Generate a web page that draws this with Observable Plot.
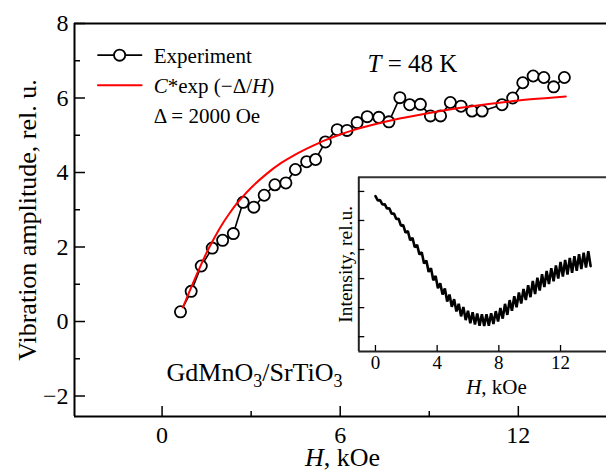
<!DOCTYPE html>
<html><head><meta charset="utf-8">
<script src="https://cdn.jsdelivr.net/npm/d3@7"></script>
<script src="https://cdn.jsdelivr.net/npm/@observablehq/plot@0.6"></script>
<style>
body{margin:0;background:#fff;}
#wrap{position:relative;width:606px;height:470px;overflow:hidden;background:#fff;}
#main{position:absolute;left:0;top:0;}
#inset{position:absolute;left:330px;top:170px;}
svg, svg text{font-family:"Liberation Serif","Times New Roman",Times,serif !important;}
</style></head><body>
<div id="wrap"><div id="main"></div><div id="inset"></div></div>
<script>
// Experiment (H in kOe, vibration amplitude rel. u.)
const expH = [0.62,0.98,1.32,1.69,2.04,2.40,2.73,3.09,3.44,3.80,4.17,4.49,4.87,5.17,5.50,5.90,6.23,6.57,6.91,7.30,7.64,8.01,8.34,8.70,9.04,9.38,9.71,10.07,10.44,10.78,11.45,11.81,12.15,12.50,12.86,13.19,13.55];
const expA = [0.26,0.81,1.49,1.97,2.18,2.36,3.20,3.07,3.39,3.67,3.72,4.08,4.29,4.35,4.82,5.15,5.13,5.34,5.50,5.48,5.36,6.01,5.82,5.83,5.52,5.52,5.88,5.78,5.65,5.65,5.82,6.00,6.41,6.59,6.55,6.30,6.55];
// Fit curve C*exp(-Δ/H)
const fitH = [0.70,0.80,0.90,1.00,1.10,1.25,1.50,1.75,2.00,2.25,2.50,2.75,3.00,3.50,4.00,4.50,5.00,5.50,6.00,6.50,7.00,8.00,9.00,10.00,11.00,12.00,13.00,13.60];
const fitA = [0.38,0.57,0.76,0.95,1.14,1.41,1.85,2.23,2.58,2.88,3.15,3.38,3.59,3.95,4.25,4.49,4.69,4.87,5.02,5.15,5.26,5.45,5.60,5.73,5.84,5.93,6.00,6.04];
// Inset: intensity vs H (oscillating trace, unlabeled intensity units)
const insetH = [0,0.15,0.3,0.45,0.6,0.75,0.9,1.05,1.2,1.35,1.5,1.65,1.8,1.95,2.1,2.25,2.4,2.55,2.7,2.85,3,3.15,3.3,3.45,3.6,3.75,3.9,4.05,4.2,4.35,4.5,4.65,4.8,4.95,5.1,5.25,5.4,5.55,5.7,5.85,6,6.15,6.3,6.45,6.6,6.75,6.9,7.05,7.2,7.35,7.5,7.65,7.8,7.95,8.1,8.25,8.4,8.55,8.7,8.85,9,9.15,9.3,9.45,9.6,9.75,9.9,10.05,10.2,10.35,10.5,10.65,10.8,10.95,11.1,11.25,11.4,11.55,11.7,11.85,12,12.15,12.3,12.45,12.6,12.75,12.9,13.05,13.2,13.35,13.5,13.65,13.8,13.95];
const insetI = [4.84,4.69,4.70,4.55,4.56,4.41,4.42,4.23,4.24,4.05,4.06,3.82,3.84,3.58,3.64,3.32,3.40,3.08,3.16,2.83,2.91,2.52,2.62,2.23,2.36,1.94,2.09,1.67,1.84,1.45,1.66,1.21,1.45,1.03,1.29,0.87,1.13,0.70,1.02,0.57,0.89,0.46,0.84,0.42,0.80,0.38,0.77,0.37,0.77,0.38,0.81,0.44,0.88,0.52,0.99,0.62,1.13,0.75,1.26,0.89,1.39,1.01,1.52,1.14,1.64,1.26,1.77,1.36,1.92,1.47,2.03,1.59,2.15,1.71,2.26,1.81,2.36,1.91,2.45,2.00,2.57,2.07,2.64,2.14,2.71,2.20,2.77,2.27,2.84,2.33,2.89,2.38,2.94,2.43];

const xMainTicks = [0,6,12], xMainMinor = [3,9];
const yMainTicks = [-2,0,2,4,6,8], yMainMinor = [-1,1,3,5,7];
const xInsetTicks = [0,4,8,12], yInsetTicks = [0,1,2,3,4,5];
const xDom = [-2.95,14.97], yDom = [-2.55,8];
const ixDom = [-1.08,14.98], iyDom = [-0.51,5.49];

// legend / annotation anchors (data units)
const legendLineX = [-2.16,-0.69], legendExpY = 7.15, legendFitY = 6.34, legendDotX = -1.43;
const legendTextX = -0.28;
const labels = [
  {x: legendTextX, y: 6.94, t: "Experiment", s: 21},
  {x: legendTextX, y: 6.13, t: "C*exp (\u2212\u0394/H)", s: 21},
  {x: legendTextX, y: 5.33, t: "\u0394 = 2000 Oe", s: 21},
  {x: 6.92, y: 6.69, t: "T = 48 K", s: 25},
  {x: 0.15, y: -1.59, t: "GdMnO3/SrTiO3", s: 26}
];

const font = '"Liberation Serif","Times New Roman",Times,serif';
const expData = expH.map((h,i)=>({H:h, A:expA[i]}));
const fitData = fitH.map((h,i)=>({H:h, A:fitA[i]}));
const insetData = insetH.map((h,i)=>({H:h, I:insetI[i]}));

const main = Plot.plot({
  width: 606, height: 470,
  marginLeft: 74, marginTop: 23, marginBottom: 54, marginRight: 0,
  style: {fontFamily: font, background: "transparent", color: "#000", overflow: "visible"},
  x: {domain: xDom, label: null},
  y: {domain: yDom, label: null},
  marks: [
    Plot.ruleY([yDom[0]], {stroke: "#000", strokeWidth: 2}),
    Plot.ruleY([yDom[1]], {stroke: "#000", strokeWidth: 2}),
    Plot.ruleX([xDom[0]], {stroke: "#000", strokeWidth: 2}),
    Plot.axisX(xMainTicks, {tickSize: -10, tickPadding: 19, fontSize: 24, strokeWidth: 1.5, label: null}),
    Plot.axisX(xMainMinor, {tickSize: -5, tickFormat: () => "", strokeWidth: 1.5, label: null}),
    Plot.axisY(yMainTicks, {tickSize: -11, tickPadding: 17, fontSize: 24, strokeWidth: 1.5, label: null, tickFormat: d => d < 0 ? "\u2212" + Math.abs(d) : String(d)}),
    Plot.axisY(yMainMinor, {tickSize: -6, tickFormat: () => "", strokeWidth: 1.5, label: null}),
    Plot.text(["Vibration amplitude, rel. u."], {frameAnchor: "left", dx: -47, rotate: -90, fontSize: 26, textAnchor: "middle", lineAnchor: "middle"}),
    Plot.text(["H, kOe"], {x: [6.08], frameAnchor: "bottom", dy: 49, fontSize: 26, textAnchor: "middle", lineAnchor: "bottom"}),
    Plot.line(expData, {x: "H", y: "A", stroke: "#000", strokeWidth: 1.6}),
    Plot.dot(expData, {x: "H", y: "A", r: 5.6, fill: "#fff", stroke: "#000", strokeWidth: 1.8}),
    Plot.line(fitData, {x: "H", y: "A", stroke: "#f00", strokeWidth: 2, curve: "monotone-x"}),
    // legend
    Plot.line(legendLineX.map(x => ({x, y: legendExpY})), {x: "x", y: "y", stroke: "#000", strokeWidth: 1.6}),
    Plot.dot([{x: legendDotX, y: legendExpY}], {x: "x", y: "y", r: 5.6, fill: "#fff", stroke: "#000", strokeWidth: 1.8}),
    Plot.line(legendLineX.map(x => ({x, y: legendFitY})), {x: "x", y: "y", stroke: "#f00", strokeWidth: 2}),
    Plot.text(labels, {x: "x", y: "y", text: "t", fontSize: "s", textAnchor: "start", lineAnchor: "bottom", fill: "#000"})
  ]
});
document.getElementById("main").appendChild(main);

const inset = Plot.plot({
  width: 276, height: 230,
  marginLeft: 28.3, marginTop: 6.7, marginBottom: 49, marginRight: 0,
  style: {fontFamily: font, background: "transparent", color: "#000", overflow: "visible"},
  x: {domain: ixDom, label: null},
  y: {domain: iyDom, label: null},
  marks: [
    Plot.frame({fill: "#fff", stroke: null}),
    Plot.ruleY([iyDom[1]], {stroke: "#333", strokeWidth: 2}),
    Plot.ruleY([iyDom[0]], {stroke: "#222", strokeWidth: 2}),
    Plot.ruleX([ixDom[0]], {stroke: "#222", strokeWidth: 2}),
    Plot.axisX(xInsetTicks, {tickSize: -6, tickPadding: 10, fontSize: 19, strokeWidth: 1.3, label: null}),
    Plot.axisY(yInsetTicks, {tickSize: -6, tickFormat: () => "", strokeWidth: 1.3, label: null}),
    Plot.line(insetData, {x: "H", y: "I", stroke: "#000", strokeWidth: 2.6, strokeLinejoin: "miter"}),
    Plot.text(["H, kOe"], {x: [7.85], frameAnchor: "bottom", dy: 42, fontSize: 21, textAnchor: "middle", lineAnchor: "bottom"}),
    Plot.text(["Intensity, rel.u."], {y: [2.49], frameAnchor: "left", dx: -13.3, rotate: -90, fontSize: 19.5, textAnchor: "middle", lineAnchor: "middle"})
  ]
});
document.getElementById("inset").appendChild(inset);

// rich text: italics and subscripts
const it = s => `<tspan font-style="italic">${s}</tspan>`;
const rich = {
  "H, kOe": it("H") + ", kOe",
  "C*exp (\u2212\u0394/H)": it("C") + "*exp (\u2212\u0394/" + it("H") + ")",
  "T = 48 K": it("T") + " = 48 K",
  "GdMnO3/SrTiO3": 'GdMnO<tspan dy="6" font-size="18">3</tspan><tspan dy="-6">/SrTiO</tspan><tspan dy="6" font-size="18">3</tspan>'
};
for (const svg of [main, inset]) {
  d3.select(svg).selectAll("text").each(function() {
    const r = rich[this.textContent];
    if (r) this.innerHTML = r;
  });
}
</script>
</body></html>
